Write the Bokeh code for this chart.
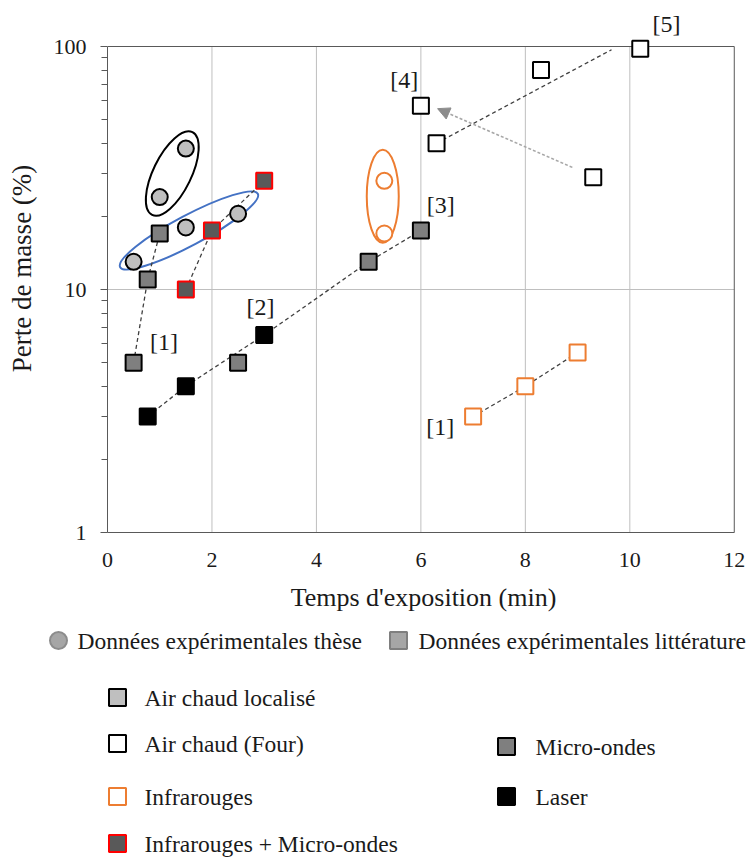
from bokeh.plotting import figure
from bokeh.models import Range1d, FixedTicker, Arrow, NormalHead, CustomJSTickFormatter
from bokeh.layouts import column
from bokeh.embed import file_html
from bokeh.resources import INLINE
from bokeh.core.properties import value

# ---------------- data ----------------
# Données expérimentales thèse (cercles)
these_air_x = [0.5, 1.0, 1.5, 1.5, 2.5]          # Air chaud localisé
these_air_y = [13.0, 24.0, 18.0, 38.0, 20.5]
these_ir_x = [5.3, 5.3]                          # Infrarouges
these_ir_y = [28.0, 17.0]

# Données expérimentales littérature (carrés)
mo_x = [0.5, 0.77, 1.0, 2.5, 5.0, 6.0]           # Micro-ondes
mo_y = [5.0, 11.0, 17.0, 5.0, 13.0, 17.5]
laser_x = [0.77, 1.5, 3.0]                       # Laser
laser_y = [3.0, 4.0, 6.5]
irmo_x = [1.5, 2.0, 3.0]                         # Infrarouges + Micro-ondes
irmo_y = [10.0, 17.5, 28.0]
four_x = [6.0, 6.3, 8.3, 10.2, 9.3]              # Air chaud (Four)
four_y = [57.0, 40.0, 80.0, 98.0, 29.0]
ir_x = [7.0, 8.0, 9.0]                           # Infrarouges
ir_y = [3.0, 4.0, 5.5]

# dashed series (references)
ref1_x = [0.5, 0.77, 1.0]
ref1_y = [5.0, 11.0, 17.0]
ref_irmo_x = [1.5, 2.0, 3.0]
ref_irmo_y = [10.0, 17.5, 28.0]
ref2_x = [0.77, 1.5, 3.0, 5.0, 6.0]
ref2_y = [3.0, 4.0, 6.5, 13.0, 17.5]
ref_ir_x = [7.0, 8.0, 9.0]
ref_ir_y = [3.0, 4.0, 5.5]
trend_four_x = [6.3, 9.65]
trend_four_y = [40.0, 97.0]

# reference labels
ref_labels = ["[1]", "[2]", "[3]", "[4]", "[5]", "[1]"]
ref_lab_x = [1.08, 2.93, 6.38, 5.68, 10.7, 6.37]
ref_lab_y = [6.07, 8.5, 22.2, 72.5, 124.0, 2.71]

x_ticks = [0, 2, 4, 6, 8, 10, 12]
y_ticks = [1, 10, 100]
y_minor = [2, 3, 4, 5, 6, 7, 8, 9, 20, 30, 40, 50, 60, 70, 80, 90]
X_MIN, X_MAX = 0, 12
Y_MIN, Y_MAX = 1, 100

FONT = value("Liberation Serif")
TXT = "#1a1a1a"
AXC = "#595959"

# ---------------- main figure ----------------
p = figure(width=747, height=616, x_range=Range1d(0, 12.1), y_range=Range1d(1, 148.9),
           y_axis_type="log", output_backend="svg", toolbar_location=None,
           min_border_left=107, min_border_right=8, min_border_top=4, min_border_bottom=84)
p.background_fill_color = "white"
p.border_fill_color = "white"
p.outline_line_color = None
p.xgrid.visible = False
p.ygrid.visible = False

p.xaxis.ticker = FixedTicker(ticks=x_ticks)
p.yaxis.ticker = FixedTicker(ticks=y_ticks, minor_ticks=y_minor)
p.xaxis.bounds = (X_MIN, X_MAX)
p.yaxis.bounds = (Y_MIN, Y_MAX)
p.yaxis.formatter = CustomJSTickFormatter(code="return String(Math.round(tick));")

p.xaxis.axis_label = "Temps d'exposition (min)"
p.yaxis.axis_label = "Perte de masse (%)"
for ax in (p.xaxis[0], p.yaxis[0]):
    ax.axis_label_text_font = "Liberation Serif"
    ax.axis_label_text_font_style = "normal"
    ax.axis_label_text_font_size = "26px"
    ax.axis_label_text_color = TXT
    ax.major_label_text_font = "Liberation Serif"
    ax.major_label_text_font_size = "22px"
    ax.major_label_text_color = TXT
    ax.axis_line_color = AXC
    ax.major_tick_line_color = AXC
    ax.minor_tick_line_color = AXC
    ax.major_tick_in = 0
    ax.minor_tick_in = 0
p.yaxis.axis_label_text_font_size = "27px"

p.xaxis.major_tick_out = 0
p.xaxis.minor_tick_out = 0
p.xaxis.major_label_standoff = 20
p.xaxis.axis_label_standoff = 13
p.yaxis.major_tick_out = 7
p.yaxis.minor_tick_out = 6
p.yaxis.major_label_standoff = 14
p.yaxis.axis_label_standoff = 14

# grid lines (within the data box) and top/right border
gx = x_ticks[1:-1]
p.segment(x0=gx, y0=[Y_MIN] * len(gx), x1=gx, y1=[Y_MAX] * len(gx),
          line_color="#bfbfbf", line_width=1, level="underlay")
p.segment(x0=[X_MIN], y0=[10], x1=[X_MAX], y1=[10], line_color="#bfbfbf", line_width=1, level="underlay")
p.segment(x0=[X_MIN, X_MAX], y0=[Y_MAX, Y_MIN], x1=[X_MAX, X_MAX], y1=[Y_MAX, Y_MAX],
          line_color=AXC, line_width=1, level="underlay")

# ellipses
p.ellipse(x=[1.24], y=[30.0], width=[92], height=[38], angle=[1.117],
          width_units="screen", height_units="screen",
          fill_alpha=0, line_color="black", line_width=2)
p.ellipse(x=[1.56], y=[17.5], width=[156], height=[30], angle=[0.49],
          width_units="screen", height_units="screen",
          fill_alpha=0, line_color="#4472c4", line_width=2)
p.ellipse(x=[5.27], y=[24.2], width=[32], height=[93], angle=[0.0],
          width_units="screen", height_units="screen",
          fill_alpha=0, line_color="#ed7d31", line_width=2)

# dashed lines
dash = dict(line_color="#404040", line_dash="4 3", line_width=1.3)
p.line(ref1_x, ref1_y, **dash)
p.line(ref_irmo_x, ref_irmo_y, **dash)
p.line(ref2_x, ref2_y, **dash)
p.line(ref_ir_x, ref_ir_y, **dash)
p.line(trend_four_x, trend_four_y, **dash)

# arrow
p.add_layout(Arrow(x_start=8.9, y_start=31.8, x_end=6.32, y_end=55.5,
                   line_color="#a6a6a6", line_width=1.5, line_dash="3 2",
                   end=NormalHead(size=12, fill_color="#8c8c8c", line_color="#8c8c8c")))

# points
SZ = 16
p.scatter(mo_x, mo_y, marker="square", size=SZ, fill_color="#7f7f7f", line_color="black", line_width=2)
p.scatter(laser_x, laser_y, marker="square", size=SZ, fill_color="black", line_color="black", line_width=2)
p.scatter(irmo_x, irmo_y, marker="square", size=SZ, fill_color="#595959", line_color="#ff0000", line_width=2)
p.scatter(four_x, four_y, marker="square", size=SZ, fill_color="white", line_color="black", line_width=2)
p.scatter(ir_x, ir_y, marker="square", size=SZ, fill_color="white", line_color="#ed7d31", line_width=2)
p.scatter(these_air_x, these_air_y, marker="circle", size=SZ, fill_color="#bfbfbf", line_color="black", line_width=2)
p.scatter(these_ir_x, these_ir_y, marker="circle", size=SZ, fill_color="white", line_color="#ed7d31", line_width=2)

# reference labels
p.text(x=ref_lab_x, y=ref_lab_y, text=ref_labels, text_font=FONT, text_font_size=value("24px"),
       text_align="center", text_baseline="middle", text_color=TXT)

# ---------------- legend figure ----------------
lg = figure(width=747, height=241, x_range=Range1d(0, 747), y_range=Range1d(241, 0),
            output_backend="svg", toolbar_location=None, min_border=0,
            min_border_left=0, min_border_right=0, min_border_top=0, min_border_bottom=0,
            x_axis_location=None, y_axis_location=None)
lg.grid.visible = False
lg.outline_line_color = None
lg.background_fill_color = "white"
lg.border_fill_color = "white"

lg.scatter([58], [24], marker="circle", size=17, fill_color="#a6a6a6", line_color="#8c8c8c", line_width=2)
lg.scatter([398], [24], marker="square", size=17, fill_color="#a6a6a6", line_color="#7f7f7f", line_width=2)
lg.scatter([117], [81], marker="square", size=17, fill_color="#bfbfbf", line_color="black", line_width=2)
lg.scatter([117], [127], marker="square", size=17, fill_color="white", line_color="black", line_width=2)
lg.scatter([506], [130], marker="square", size=17, fill_color="#7f7f7f", line_color="black", line_width=2)
lg.scatter([117], [180], marker="square", size=17, fill_color="white", line_color="#ed7d31", line_width=2)
lg.scatter([506], [180], marker="square", size=17, fill_color="black", line_color="black", line_width=2)
lg.scatter([117], [227], marker="square", size=17, fill_color="#595959", line_color="#ff0000", line_width=2)

leg_text = ["Données expérimentales thèse", "Données expérimentales littérature",
            "Air chaud localisé", "Air chaud (Four)", "Micro-ondes",
            "Infrarouges", "Laser", "Infrarouges + Micro-ondes"]
leg_tx = [77, 418, 144, 144, 535, 144, 535, 144]
leg_ty = [24, 24, 81, 127, 130, 180, 180, 227]
lg.text(x=leg_tx, y=leg_ty, text=leg_text, text_font=FONT, text_font_size=value("23.5px"),
        text_align="left", text_baseline="middle", text_color=TXT)

layout = column(p, column(lg))
open("out.html", "w").write(file_html(layout, INLINE))
